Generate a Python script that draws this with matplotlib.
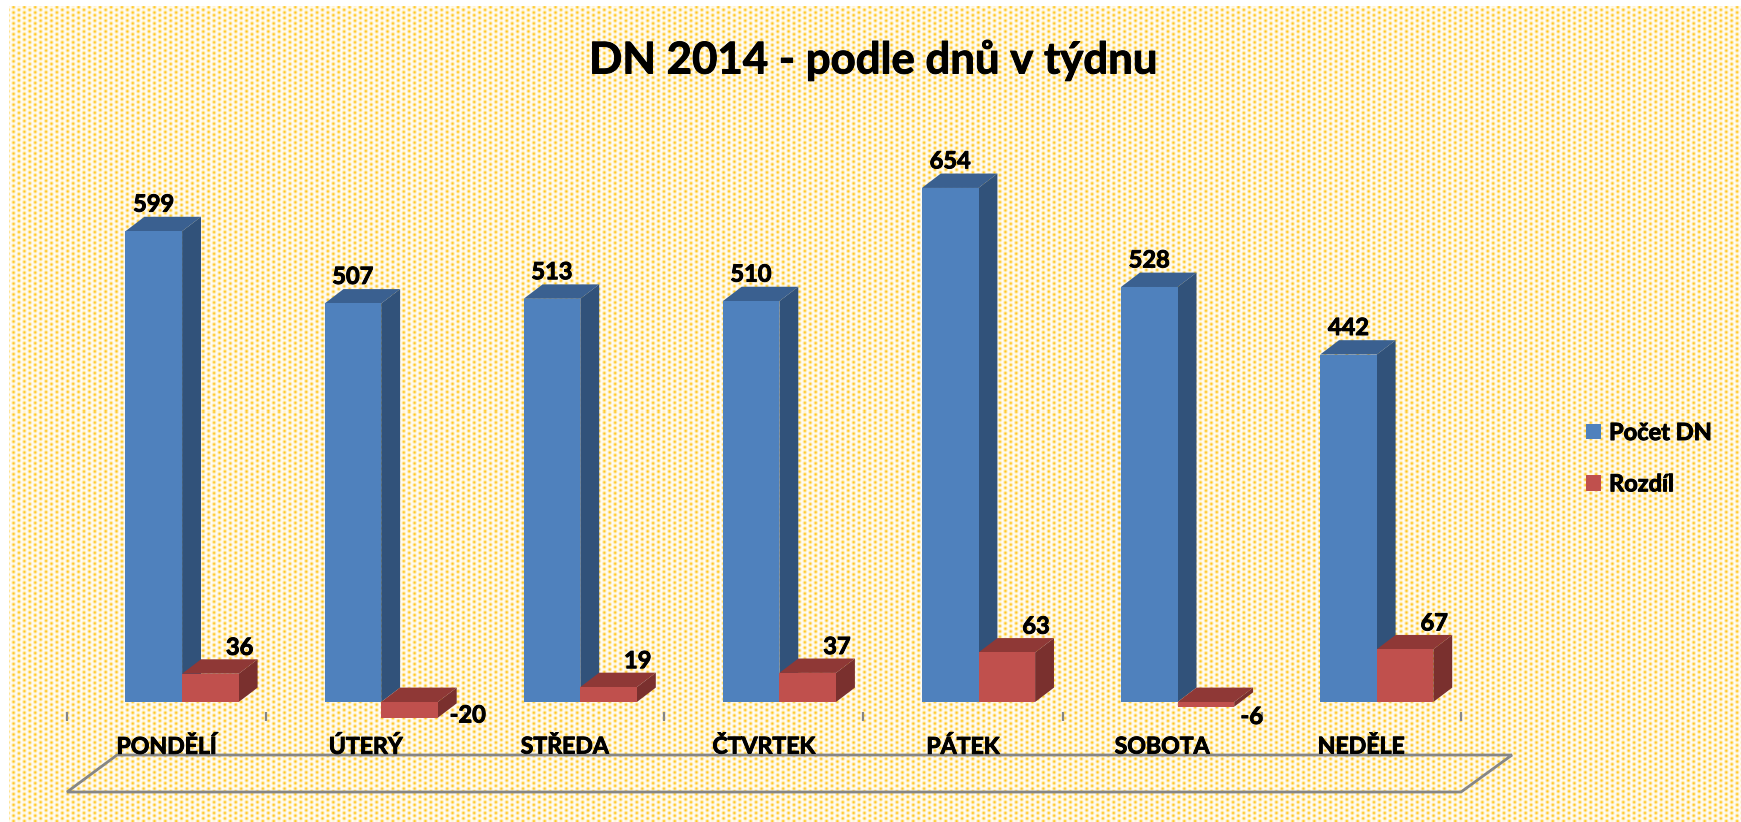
import numpy as np
import matplotlib
matplotlib.use("Agg")
import matplotlib.pyplot as plt
import matplotlib.patheffects as pe
from matplotlib.patches import Polygon, Patch

days = ["PONDĚLÍ", "ÚTERÝ", "STŘEDA", "ČTVRTEK", "PÁTEK", "SOBOTA", "NEDĚLE"]
pocet = [599, 507, 513, 510, 654, 528, 442]
rozdil = [36, -20, 19, 37, 63, -6, 67]
series_names = ["Počet DN", "Rozdíl"]
title = "DN 2014 - podle dnů v týdnu"

W, H = 1741, 822
plt.rcParams["font.family"] = ["Lato", "DejaVu Sans"]
plt.rcParams["font.weight"] = "bold"
fig = plt.figure(figsize=(W / 100, H / 100), dpi=100, facecolor="white")
heavy = [pe.withStroke(linewidth=0.7, foreground="black")]

# textured background
bg = fig.add_axes([0, 0, 1, 1], zorder=0)
yy, xx = np.mgrid[0:H, 0:W]
period = 5.42
col_i = np.floor((xx + 0.5) / period)
cx = (col_i + 0.5) * period
off = (col_i % 2) * period / 2
cy = (np.floor((yy + 0.5 - off) / period) + 0.5) * period + off
d2 = (xx + .5 - cx) ** 2 + (yy + .5 - cy) ** 2
a = np.exp(-d2 / (2 * 1.15 ** 2)) * 0.9 + 0.02
tex = np.ones((H, W, 3))
col = np.array([1.0, 0.76, 0.05])
for i in range(3):
    tex[..., i] = 1 - a * (1 - col[i])
tex[:7, :] = 1
tex[:, :9] = 1
bg.imshow(tex, extent=(0, W, H, 0), aspect="auto", interpolation="nearest")
bg.axis("off")

# main axes: one category = 199.1 px, one unit = 0.786 px
ax = fig.add_axes([0, 0, 1, 1], zorder=1)
ax.patch.set_alpha(0)
step, unit, x0, y0 = 199.1, 0.786, 182.1, 702.0
ax.set_xlim(-x0 / step, (W - x0) / step)
ax.set_ylim(-(H - y0) / unit, y0 / unit)
ax.axis("off")

bw = 56.6 / step
dx, dy = 18.9 / step, 14.4 / unit
x = np.arange(len(days))


def bar3d(left, val, front, top, side):
    low, high = min(val, 0), max(val, 0)
    ax.bar(left, high - low, bw, bottom=low, align="edge", color=front, zorder=5,
           edgecolor="none")
    r = left + bw
    ax.add_patch(Polygon([(left, high), (r, high), (r + dx, high + dy), (left + dx, high + dy)],
                         closed=True, fc=top, ec="none", zorder=4))
    ax.add_patch(Polygon([(r, low), (r, high), (r + dx, high + dy), (r + dx, low + dy)],
                         closed=True, fc=side, ec="none", zorder=4))


for i in x:
    bar3d(i - bw, pocet[i], "#4F81BD", "#3A6090", "#31527A")
for i in x:
    bar3d(i, rozdil[i], "#C0504D", "#8F3836", "#7A302E")

fs = 17
for i in x:
    ax.annotate(str(pocet[i]), (i - bw / 2, pocet[i]), xytext=(0, 19.5), textcoords="offset points",
                ha="center", va="center", fontsize=fs, fontweight="bold", color="black", zorder=8,
                path_effects=heavy)
    if rozdil[i] >= 0:
        xo, yo = 21, 19
    else:
        xo, yo = (42 if i == 1 else 33), (2 if i == 1 else -7)
    ax.annotate(str(rozdil[i]), (i + bw / 2, rozdil[i]), xytext=(xo, yo), textcoords="offset points",
                ha="center", va="center", fontsize=fs, fontweight="bold", color="black", zorder=8,
                path_effects=heavy)

# axis ticks and floor, measured in category / value units
tick_x = (67 - x0 + step * np.arange(8)) / step
ax.vlines(tick_x, -(721 - y0) / unit, -(712 - y0) / unit, color="#868686", lw=1.6, zorder=3)
floor = [(67, 792), (117, 755), (1512, 755), (1461, 792)]
ax.add_patch(Polygon([((px - x0) / step, (y0 - py) / unit) for px, py in floor], closed=True,
                     fc="none", ec="#868686", lw=2.0, zorder=3))
for i in x:
    ax.text((166.6 - x0) / step + i, (y0 - 747) / unit, days[i], ha="center", va="center",
            fontsize=16.6, fontweight="bold", color="black", zorder=8, path_effects=heavy)

fig.text(873 / W, 1 - 60 / H, title, ha="center", va="center", fontsize=31.5, fontweight="bold",
         color="black", zorder=9, path_effects=heavy)

handles = [Patch(fc="#4F81BD", ec="none"), Patch(fc="#C0504D", ec="none")]
leg = ax.legend(handles, series_names, loc="upper left", bbox_to_anchor=(1586 / W, 1 - 421 / H),
                bbox_transform=fig.transFigure, frameon=False, fontsize=fs, borderpad=0,
                borderaxespad=0, handlelength=0.635, handleheight=0.635, handletextpad=0.34,
                labelspacing=1.2)
for t in leg.get_texts():
    t.set_fontweight("bold")
    t.set_path_effects(heavy)

fig.savefig("out.png", dpi=100, facecolor="white")
